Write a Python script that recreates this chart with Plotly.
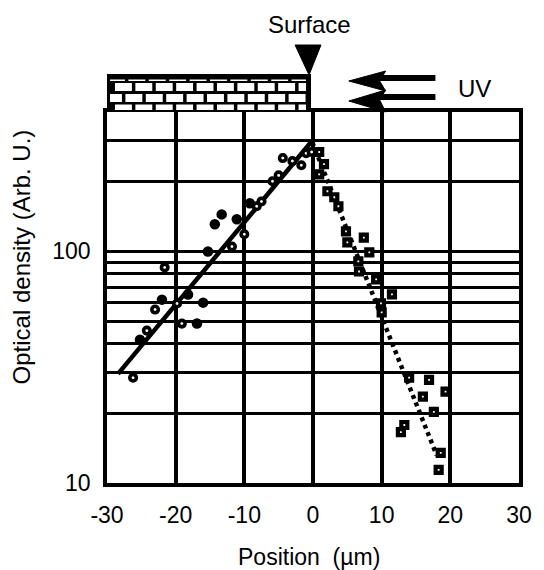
import plotly.graph_objects as go

# ---------------- data ----------------
open_x = [-26.2, -24.2, -23.0, -21.6, -19.8, -19.1, -11.8, -10.0, -8.2, -7.5,
          -5.9, -5.0, -4.4, -3.0, -1.7, -1.0, -0.2]
open_y = [28.5, 45.5, 56.1, 85.3, 59.6, 48.8, 105, 118.6, 156.7, 164.4,
          201, 213, 253, 245.6, 235.6, 265.6, 268.7]

filled_x = [-25.2, -22.0, -18.2, -16.9, -16.0, -15.3, -14.3, -13.3, -11.1, -9.2]
filled_y = [41.6, 61.9, 65.2, 48.8, 60.1, 100, 131, 144.5, 137.7, 161.5]

square_x = [0.9, 1.6, 0.9, 2.1, 3.1, 3.7, 4.8, 5.0, 7.4, 8.2, 6.6, 6.7, 9.2,
            11.5, 9.9, 10.0, 14.0, 16.9, 16.0, 19.3, 17.6, 13.3, 12.8, 18.6, 18.3]
square_y = [268.7, 238.4, 215.3, 181.9, 171.4, 156.7, 122, 109.4, 114.8, 99,
            90.6, 81.9, 75.7, 65.2, 59.6, 54.5, 28.5, 27.9, 23.6, 24.8, 20.3,
            17.8, 16.6, 13.5, 11.4]

fit_left_x = [-28.4, -0.3]
fit_left_y = [29.6, 296]
fit_right_x = [-0.1, 18.0]
fit_right_y = [296, 13.2]

x_ticks = [-30, -20, -10, 0, 10, 20, 30]
x_ticktext = ["-30", "-20", "-10", "0", "10", "20", "30"]
y_ticks = [10, 20, 30, 40, 50, 60, 70, 80, 90, 100, 200, 300, 400]
y_ticktext = ["10", "", "", "", "", "", "", "", "", "100", "", "", ""]

FONT = "Liberation Sans, Arial, Helvetica, sans-serif"

fig = go.Figure()
fig.add_trace(go.Scatter(x=fit_left_x, y=fit_left_y, mode="lines",
                         line=dict(color="black", width=4.5), showlegend=False))
fig.add_trace(go.Scatter(x=fit_right_x, y=fit_right_y, mode="lines",
                         line=dict(color="black", width=4.5, dash="4px,4px"),
                         showlegend=False))
fig.add_trace(go.Scatter(x=open_x, y=open_y, mode="markers",
                         marker=dict(symbol="circle", size=6.5, color="white",
                                     line=dict(color="black", width=3.6)),
                         showlegend=False))
fig.add_trace(go.Scatter(x=filled_x, y=filled_y, mode="markers",
                         marker=dict(symbol="circle", size=10.5, color="black",
                                     line=dict(width=0)),
                         showlegend=False))
fig.add_trace(go.Scatter(x=square_x, y=square_y, mode="markers",
                         marker=dict(symbol="square", size=6, color="white",
                                     line=dict(color="black", width=4.2)),
                         showlegend=False))

# ---------------- layout geometry ----------------
W, H = 544, 570
L, R, T, B = 107, 23, 112, 87
PW = W - L - R
PH = H - T - B


def pxx(x):
    return (x - L) / PW


def pyy(y):
    return (H - B - y) / PH


shapes = []
# brick wall box
shapes.append(dict(type="rect", xref="paper", yref="paper",
                   x0=pxx(107), x1=pxx(312), y0=pyy(112), y1=pyy(74),
                   fillcolor="black", line=dict(width=0), layer="above"))
brick_rows = [(79.5, 81, 108), (83, 91, 115), (94, 102, 105), (104.5, 110, 115)]
for (ya, yb, start) in brick_rows:
    xs = start
    while xs < 307:
        xa = max(xs, 110)
        xb = min(xs + 17, 307)
        if xb - xa > 2:
            shapes.append(dict(type="rect", xref="paper", yref="paper",
                               x0=pxx(xa), x1=pxx(xb), y0=pyy(yb), y1=pyy(ya),
                               fillcolor="white", line=dict(width=0),
                               layer="above"))
        xs += 20.5


def tri(pts):
    d = "M " + " L ".join(f"{pxx(a):.5f},{pyy(b):.5f}" for a, b in pts) + " Z"
    return dict(type="path", xref="paper", yref="paper", path=d,
                fillcolor="black", line=dict(color="black", width=1),
                layer="above")


# surface triangle
shapes.append(tri([(296, 45), (322, 45), (310, 75)]))
# UV arrows
shapes.append(dict(type="rect", xref="paper", yref="paper",
                   x0=pxx(380), x1=pxx(437), y0=pyy(81), y1=pyy(75),
                   fillcolor="black", line=dict(width=0), layer="above"))
shapes.append(dict(type="rect", xref="paper", yref="paper",
                   x0=pxx(380), x1=pxx(437), y0=pyy(100), y1=pyy(94),
                   fillcolor="black", line=dict(width=0), layer="above"))
shapes.append(tri([(350, 81), (387, 71), (381, 81), (387, 91)]))
shapes.append(tri([(350, 101), (387, 90), (381, 100), (387, 112)]))

annotations = [
    dict(text="Surface", xref="paper", yref="paper", x=pxx(310), y=pyy(24),
         showarrow=False, font=dict(size=24, color="black", family=FONT),
         xanchor="center", yanchor="middle"),
    dict(text="UV", xref="paper", yref="paper", x=pxx(476), y=pyy(88),
         showarrow=False, font=dict(size=24, color="black", family=FONT),
         xanchor="center", yanchor="middle"),
    dict(text="Position  (\u00b5m)", xref="paper", yref="paper", x=pxx(310),
         y=pyy(557), showarrow=False,
         font=dict(size=23, color="black", family=FONT),
         xanchor="center", yanchor="middle"),
    dict(text="Optical density (Arb. U.)", xref="paper", yref="paper",
         x=pxx(21), y=pyy(257), showarrow=False, textangle=-90,
         font=dict(size=24, color="black", family=FONT),
         xanchor="center", yanchor="middle"),
]

fig.update_layout(
    width=W, height=H,
    margin=dict(l=L, r=R, t=T, b=B, pad=0),
    paper_bgcolor="white", plot_bgcolor="white",
    font=dict(family=FONT, color="black", size=23),
    shapes=shapes, annotations=annotations,
    xaxis=dict(range=[-30, 30], tickvals=x_ticks, ticktext=x_ticktext,
               showgrid=True, gridcolor="black", gridwidth=3.5,
               zeroline=False, showline=True, linecolor="black", linewidth=3.5,
               mirror=True, ticks="", ticklabelstandoff=9,
               tickfont=dict(size=23, family=FONT, color="black")),
    yaxis=dict(type="log", range=[1, 2.60206], tickvals=y_ticks,
               ticktext=y_ticktext,
               showgrid=True, gridcolor="black", gridwidth=2.8,
               zeroline=False, showline=True, linecolor="black", linewidth=3.5,
               mirror=True, ticks="", ticklabelstandoff=8,
               tickfont=dict(size=23, family=FONT, color="black")),
)

fig.write_html("out.html")
